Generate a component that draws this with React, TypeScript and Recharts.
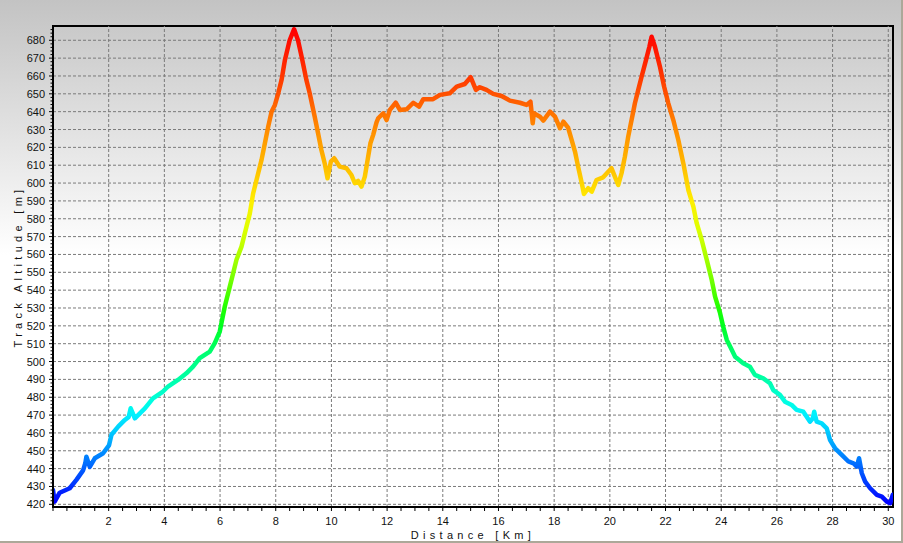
import React from "react";
import {
  LineChart,
  Line,
  XAxis,
  YAxis,
  CartesianGrid,
  ReferenceArea,
  ReferenceLine,
} from "recharts";

// Distance along the track (km)
const distances: number[] = [
  0.0, 0.06, 0.24, 0.6, 0.84, 1.08, 1.16, 1.2, 1.32, 1.5, 1.8, 2.01, 2.1, 2.34,
  2.58, 2.72, 2.79, 2.94, 3.3, 3.59, 3.95, 4.13, 4.49, 4.79, 5.03, 5.27, 5.63,
  5.81, 5.99, 6.05, 6.17, 6.35, 6.47, 6.59, 6.77, 6.89, 7.07, 7.19, 7.37, 7.49,
  7.61, 7.73, 7.85, 7.97, 8.09, 8.21, 8.33, 8.5, 8.66, 8.8, 8.93, 9.1, 9.22,
  9.4, 9.52, 9.64, 9.76, 9.86, 9.98, 10.1, 10.3, 10.54, 10.72, 10.84, 10.96,
  11.08, 11.2, 11.32, 11.4, 11.5, 11.62, 11.68, 11.86, 11.98, 12.1, 12.31,
  12.46, 12.7, 12.94, 13.15, 13.3, 13.65, 13.9, 14.25, 14.5, 14.79, 15.0, 15.19,
  15.33, 15.57, 15.81, 16.11, 16.41, 16.77, 17.01, 17.15, 17.23, 17.27, 17.49,
  17.61, 17.85, 18.03, 18.21, 18.33, 18.5, 18.63, 18.75, 18.86, 18.99, 19.07,
  19.22, 19.35, 19.52, 19.76, 20.06, 20.18, 20.3, 20.42, 20.54, 20.66, 20.78,
  20.9, 21.02, 21.14, 21.3, 21.42, 21.5, 21.62, 21.8, 21.95, 22.1, 22.28, 22.46,
  22.64, 22.82, 23.0, 23.12, 23.3, 23.48, 23.66, 23.78, 23.96, 24.07, 24.2,
  24.32, 24.5, 24.79, 25.03, 25.21, 25.51, 25.75, 25.87, 26.11, 26.29, 26.53,
  26.71, 26.95, 27.19, 27.29, 27.34, 27.43, 27.61, 27.79, 27.91, 28.09, 28.33,
  28.57, 28.75, 28.87, 28.95, 29.05, 29.17, 29.35, 29.59, 29.77, 29.95, 30.07,
  30.16,
];

// Track altitude (m)
const altitudes: number[] = [
  428, 421.5, 426.5, 429, 433.7, 439, 443, 446.7, 441, 445.8, 448.6, 453, 459,
  463.5, 467.3, 469, 473.8, 468.2, 473.8, 479.4, 483.2, 486, 489.7, 493.4,
  497.1, 501.9, 505.5, 510.3, 516.8, 521.5, 530.8, 542, 549.5, 557, 564.4,
  571.9, 583, 594.3, 605.5, 613, 622.3, 631.6, 640, 643.8, 650.3, 657.8, 669,
  680, 686.2, 680, 670.8, 657.8, 650.3, 637.2, 627.9, 618.5, 611, 602.7, 612,
  613.9, 609.2, 608.3, 604.5, 599.9, 601.2, 598, 603.6, 614.8, 622.3, 627, 634,
  636.3, 639.1, 635.3, 641, 645, 641, 641.3, 645, 642.8, 647, 647, 649.4, 650.3,
  654, 655.5, 659.3, 652.2, 653.7, 652.2, 650, 648.8, 646.2, 645, 643.8, 645.6,
  633.5, 639.1, 637.2, 635, 640, 637.2, 630.7, 634.4, 631, 624, 617.5, 609.2,
  600, 593.9, 597.1, 595.2, 601.7, 603.2, 608.3, 603.6, 598.9, 605.5, 614.8,
  626, 635.3, 644.7, 652.2, 659.6, 669, 676.4, 682, 676.4, 665.2, 654, 644.7,
  635.3, 624.1, 611, 596.1, 586.8, 577.5, 568.1, 557, 545.7, 536.4, 527.1,
  519.6, 512.1, 508.4, 502.7, 499, 497.1, 492.5, 490.6, 487.8, 484, 481.3,
  477.5, 475.7, 472.9, 471.9, 466.3, 468.2, 471.9, 466.3, 465.4, 462.6, 456,
  451.4, 447.7, 444, 443, 441.1, 445.8, 437.4, 432.7, 429, 425.3, 424.3, 421.5,
  420.6, 425.3,
];

// Axis ticks / labels
const xMajorTicks: number[] = [2, 4, 6, 8, 10, 12, 14, 16, 18, 20, 22, 24, 26, 28, 30];
const yMajorTicks: number[] = [
  420, 430, 440, 450, 460, 470, 480, 490, 500, 510, 520, 530, 540, 550, 560,
  570, 580, 590, 600, 610, 620, 630, 640, 650, 660, 670, 680,
];
const xDomain: [number, number] = [0, 30.17];
const yDomain: [number, number] = [418.5, 688];
const xTitle = "Distance [Km]";
const yTitle = "Track Altitude [m]";

// altitude -> colour stops for the line
const colorStops: [number, string][] = [
  [686, "#ff0000"],
  [665, "#ff2a00"],
  [650, "#ff5000"],
  [640, "#ff7000"],
  [625, "#ff9800"],
  [610, "#ffbb00"],
  [600, "#ffd500"],
  [590, "#ffee00"],
  [575, "#e0ff00"],
  [560, "#b0ff00"],
  [545, "#70ff00"],
  [530, "#20ff00"],
  [520, "#00ff20"],
  [505, "#00ff70"],
  [490, "#00ffa8"],
  [478, "#00ffe0"],
  [470, "#00f0ff"],
  [460, "#00c8ff"],
  [450, "#0090ff"],
  [440, "#0060ff"],
  [430, "#0030ff"],
  [421, "#0000ff"],
];

const data = distances.map((d, i) => ({ d, a: altitudes[i] }));

const xAllTicks: number[] = [];
for (let i = 0; i <= 60; i++) xAllTicks.push(i / 2);
const yAllTicks: number[] = [];
for (let v = 420; v <= 686; v += 2) yAllTicks.push(v);

const FONT = "'Liberation Sans', Arial, sans-serif";

const XTick = (props: any) => {
  const { x, y, payload } = props;
  const v = payload.value as number;
  const major = xMajorTicks.includes(v);
  return (
    <g>
      <line x1={x} x2={x} y1={y} y2={y + 4} stroke="#000" strokeWidth={1} />
      {major && (
        <text x={x} y={y + 18} textAnchor="middle" fontSize={11} fontFamily={FONT} fill="#111">
          {v}
        </text>
      )}
    </g>
  );
};

const YTick = (props: any) => {
  const { x, y, payload } = props;
  const v = payload.value as number;
  const major = yMajorTicks.includes(v);
  return (
    <g>
      <line x1={x - (major ? 4 : 2.5)} x2={x} y1={y} y2={y} stroke="#000" strokeWidth={1} />
      {major && (
        <text x={x - 8} y={y + 4} textAnchor="end" fontSize={11} fontFamily={FONT} fill="#111">
          {v}
        </text>
      )}
    </g>
  );
};

const XTitle = (props: any) => {
  const vb = props.viewBox || {};
  return (
    <text
      x={vb.x + vb.width / 2}
      y={539}
      textAnchor="middle"
      fontSize={11}
      fontFamily={FONT}
      letterSpacing={4.3}
      fill="#111"
    >
      {xTitle}
    </text>
  );
};

const YTitle = (props: any) => {
  const vb = props.viewBox || {};
  const cx = 21.5;
  const cy = vb.y + vb.height / 2;
  return (
    <text
      x={cx}
      y={cy}
      transform={`rotate(-90, ${cx}, ${cy})`}
      textAnchor="middle"
      fontSize={11}
      fontFamily={FONT}
      letterSpacing={4.3}
      fill="#111"
    >
      {yTitle}
    </text>
  );
};

export default function App() {
  const maxA = Math.max(...altitudes);
  const minA = Math.min(...altitudes);
  return (
    <div
      style={{
        position: "absolute",
        left: 0,
        top: 0,
        width: 903,
        height: 543,
        boxSizing: "border-box",
        borderRight: "2px solid #aca899",
        borderBottom: "2px solid #aca899",
        background: "linear-gradient(to bottom, #c3c3c3 0px, #ffffff 255px, #ffffff 100%)",
        overflow: "hidden",
      }}
    >
      <LineChart
        width={903}
        height={543}
        data={data}
        margin={{ top: 26, right: 10, bottom: 0, left: 0 }}
      >
        <defs>
          <linearGradient id="altGrad" x1="0" y1="0" x2="0" y2="1">
            {colorStops.map(([alt, c], i) => (
              <stop
                key={i}
                offset={Math.min(1, Math.max(0, (maxA - alt) / (maxA - minA)))}
                stopColor={c}
              />
            ))}
          </linearGradient>
        </defs>
        <CartesianGrid
          stroke="#7a7a7a"
          strokeDasharray="3 2"
          vertical={false}
          horizontalValues={yMajorTicks}
        />
        {xMajorTicks.map((v) => (
          <ReferenceLine
            key={`vx${v}`}
            x={v}
            stroke="#7a7a7a"
            strokeDasharray="3 2"
            strokeWidth={1}
          />
        ))}
        <XAxis
          dataKey="d"
          type="number"
          domain={xDomain}
          allowDataOverflow
          ticks={xAllTicks}
          interval={0}
          height={36}
          tickSize={0}
          tickMargin={0}
          tickLine={false}
          tick={<XTick />}
          axisLine={{ stroke: "#000", strokeWidth: 2 }}
          label={<XTitle />}
        />
        <YAxis
          dataKey="a"
          type="number"
          domain={yDomain}
          allowDataOverflow
          ticks={yAllTicks}
          interval={0}
          width={53}
          tickSize={0}
          tickMargin={0}
          tickLine={false}
          tick={<YTick />}
          axisLine={{ stroke: "#000", strokeWidth: 2 }}
          label={<YTitle />}
        />
        <ReferenceArea
          x1={xDomain[0]}
          x2={xDomain[1]}
          y1={yDomain[0]}
          y2={yDomain[1]}
          fill="none"
          stroke="#000"
          strokeWidth={2}
          ifOverflow="extendDomain"
        />
        <Line
          type="linear"
          dataKey="a"
          stroke="url(#altGrad)"
          strokeWidth={4.5}
          strokeLinejoin="round"
          strokeLinecap="round"
          dot={false}
          activeDot={false}
          isAnimationActive={false}
        />
      </LineChart>
    </div>
  );
}
